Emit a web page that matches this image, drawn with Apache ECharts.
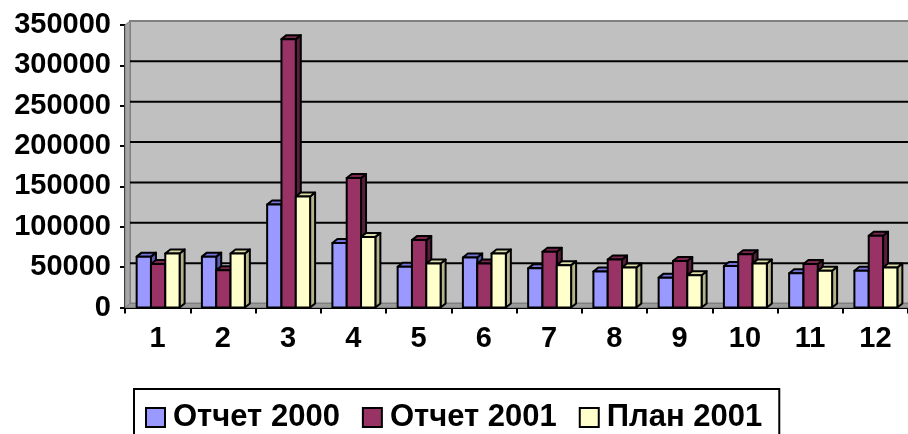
<!DOCTYPE html>
<html>
<head>
<meta charset="utf-8">
<script src="https://cdn.jsdelivr.net/npm/echarts@6/dist/echarts.min.js"></script>
<style>
  html, body { margin: 0; padding: 0; background: #fff; }
  #chart { width: 908px; height: 434px; }
</style>
</head>
<body>
<div id="chart"></div>
<script>
// Monthly figures: 2000 report, 2001 report and 2001 plan
const months = ['1', '2', '3', '4', '5', '6', '7', '8', '9', '10', '11', '12'];
const report2000 = [63000, 63000, 127500, 80000, 50500, 62000, 48500, 44500, 37000, 51500, 42500, 45500];
const report2001 = [54000, 46000, 332500, 160500, 83500, 54500, 69000, 59500, 57500, 66000, 54000, 89000];
const plan2001   = [67000, 67000, 137500, 87500, 54500, 67000, 52500, 49500, 40000, 54500, 45500, 49500];
const yTicks = [0, 50000, 100000, 150000, 200000, 250000, 300000, 350000];

const seriesNames = ['Отчет 2000', 'Отчет 2001', 'План 2001'];
const seriesData = [report2000, report2001, plan2001];
const fronts = ['#9999ff', '#993366', '#ffffcc'];
const tops   = ['#7373d9', '#7a2850', '#dcdca8'];
const sides  = ['#5c5cb8', '#5a1d3c', '#b4b48c'];

const FONT = '"Liberation Sans", Arial, sans-serif';
const DX = 5, DY = 4;          // depth offset of the pseudo-3D walls and columns
const BAR_FRAC = 0.2195;       // column width as a share of a category slot

function wallRender(params, api) {
  const cs = params.coordSys;
  const x0 = cs.x, y0 = cs.y, w = cs.width, h = cs.height, yb = y0 + h;
  const children = [];
  // back wall
  children.push({ type: 'rect', shape: { x: x0 + DX, y: y0 - DY, width: w, height: h },
    style: { fill: '#c0c0c0', stroke: '#808080', lineWidth: 2 } });
  // left side wall
  children.push({ type: 'polygon', shape: { points: [[x0, y0], [x0 + DX, y0 - DY], [x0 + DX, yb - DY], [x0, yb]] },
    style: { fill: '#a6a6a6', stroke: '#808080', lineWidth: 1 } });
  // floor
  children.push({ type: 'polygon', shape: { points: [[x0, yb], [x0 + DX, yb - DY], [x0 + w + DX, yb - DY], [x0 + w, yb]] },
    style: { fill: '#9a9a9a', stroke: '#808080', lineWidth: 1 } });
  // gridlines on the back wall
  yTicks.forEach(function (v) {
    if (v === 0 || v === yTicks[yTicks.length - 1]) return;
    const p = api.coord([0, v]);
    children.push({ type: 'line', shape: { x1: x0 + DX, y1: p[1] - DY, x2: x0 + w + DX, y2: p[1] - DY },
      style: { stroke: '#000', lineWidth: 2 } });
  });
  return { type: 'group', children: children };
}

function makeColumnRender(k) {
  return function (params, api) {
    const cat = api.value(0);
    const v = api.value(1);
    const base = api.coord([cat, 0]);
    const top = api.coord([cat, v]);
    const cw = api.size([1, 0])[0];
    const bw = cw * BAR_FRAC;
    const x = base[0] - 1.5 * bw + k * bw + 0.5;
    const yt = top[1], yb = base[1];
    const ls = { stroke: '#000', lineWidth: 2, lineJoin: 'round' };
    return {
      type: 'group',
      children: [
        { type: 'polygon', shape: { points: [[x + bw, yt], [x + bw + DX, yt - DY], [x + bw + DX, yb - DY], [x + bw, yb]] },
          style: Object.assign({ fill: sides[k] }, ls) },
        { type: 'polygon', shape: { points: [[x, yt], [x + DX, yt - DY], [x + bw + DX, yt - DY], [x + bw, yt]] },
          style: Object.assign({ fill: tops[k] }, ls) },
        { type: 'rect', shape: { x: x, y: yt, width: bw, height: yb - yt },
          style: Object.assign({ fill: fronts[k] }, ls) }
      ]
    };
  };
}

const chart = echarts.init(document.getElementById('chart'), null, { renderer: 'canvas' });

const series = [{
  type: 'custom',
  name: '_walls',
  renderItem: wallRender,
  data: [[0, 0]],
  silent: true,
  z: 1
}];
seriesData.forEach(function (arr, k) {
  series.push({
    type: 'custom',
    name: seriesNames[k],
    renderItem: makeColumnRender(k),
    itemStyle: { color: fronts[k] },
    encode: { x: 0, y: 1 },
    data: arr.map(function (v, i) { return [i, v]; }),
    z: 2 + k
  });
});

chart.setOption({
  animation: false,
  backgroundColor: '#fff',
  grid: { left: 125, top: 25, width: 784, height: 282.5, containLabel: false },
  xAxis: {
    type: 'category',
    data: months,
    boundaryGap: true,
    axisLine: { lineStyle: { color: '#000', width: 2 } },
    axisTick: { show: true, length: 6, lineStyle: { color: '#000', width: 2 } },
    axisLabel: { color: '#000', fontFamily: FONT, fontWeight: 'bold', fontSize: 29, margin: 17 },
    splitLine: { show: false }
  },
  yAxis: {
    type: 'value',
    min: 0, max: 350000, interval: 50000,
    axisLine: { show: true, lineStyle: { color: '#000', width: 2 } },
    axisTick: { show: true, length: 5, lineStyle: { color: '#000', width: 2 } },
    axisLabel: { color: '#000', fontFamily: FONT, fontWeight: 'bold', fontSize: 29, margin: 14,
      formatter: function (v) { return String(v); } },
    splitLine: { show: false }
  },
  legend: {
    left: 134, top: 389,
    data: seriesNames.map(function (n, k) {
      return { name: n, icon: 'rect', itemStyle: { color: fronts[k], borderColor: '#000', borderWidth: 2 } };
    }),
    itemWidth: 19, itemHeight: 19, itemGap: 22,
    borderColor: '#000', borderWidth: 2,
    padding: [13, 17, 20, 11],
    textStyle: { color: '#000', fontFamily: FONT, fontWeight: 'bold', fontSize: 31, padding: [0, 0, 0, 3] }
  },
  series: series
});
</script>
</body>
</html>
